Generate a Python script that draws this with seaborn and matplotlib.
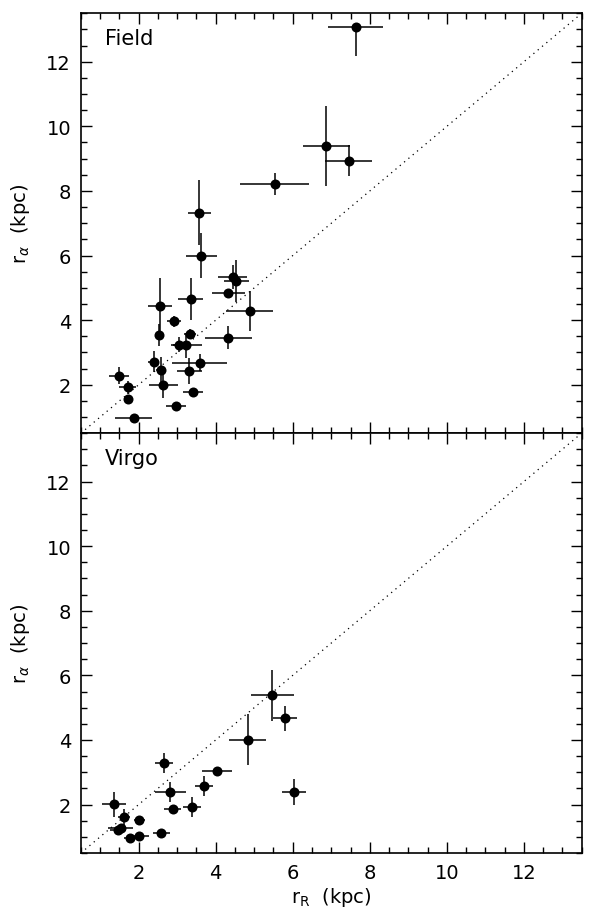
import matplotlib
matplotlib.use("Agg")
import matplotlib.pyplot as plt
from matplotlib.ticker import MultipleLocator
import numpy as np
import pandas as pd
import seaborn as sns

# Field galaxies: r_R (kpc), r_alpha (kpc) and error bars
field_x = [7.63, 6.87, 7.45, 5.53, 3.57, 3.63, 4.44, 4.54, 4.33, 4.89, 2.56, 3.35, 2.92, 2.54,
           3.34, 4.32, 3.04, 3.24, 2.39, 2.57, 3.58, 3.32, 2.64, 1.50, 1.72, 1.72, 3.41, 2.97, 1.87]
field_y = [13.08, 9.39, 8.94, 8.22, 7.33, 6.00, 5.34, 5.20, 4.85, 4.29, 4.44, 4.65, 3.96, 3.54,
           3.57, 3.46, 3.24, 3.24, 2.72, 2.47, 2.68, 2.42, 1.98, 2.28, 1.92, 1.56, 1.78, 1.33, 0.97]
field_xerr = [0.71, 0.61, 0.61, 0.89, 0.30, 0.41, 0.37, 0.32, 0.42, 0.61, 0.31, 0.33, 0.18, 0.0,
              0.15, 0.61, 0.15, 0.40, 0.15, 0.13, 0.71, 0.33, 0.38, 0.26, 0.22, 0.0, 0.26, 0.26, 0.49]
field_yerr_lo = [0.90, 1.23, 0.48, 0.35, 1.00, 0.70, 0.37, 0.65, 0.0, 0.62, 0.85, 0.65, 0.18, 0.34,
                 0.15, 0.36, 0.23, 0.40, 0.33, 0.38, 0.26, 0.41, 0.38, 0.26, 0.20, 0.15, 0.0, 0.0, 0.0]
field_yerr_hi = [0.0, 1.23, 0.48, 0.35, 1.00, 0.70, 0.37, 0.65, 0.0, 0.62, 0.85, 0.65, 0.18, 0.34,
                 0.15, 0.36, 0.23, 0.35, 0.33, 0.38, 0.26, 0.41, 0.38, 0.26, 0.20, 0.0, 0.0, 0.0, 0.0]

# Virgo galaxies
virgo_x = [5.47, 5.80, 4.83, 4.03, 2.66, 3.69, 2.82, 6.03, 3.38, 2.89, 1.37, 1.62, 2.02, 1.53,
           1.46, 1.78, 2.02, 2.59]
virgo_y = [5.38, 4.67, 4.01, 3.05, 3.29, 2.57, 2.40, 2.40, 1.92, 1.85, 2.01, 1.60, 1.53, 1.28,
           1.21, 0.96, 1.04, 1.12]
virgo_xerr = [0.56, 0.31, 0.48, 0.39, 0.24, 0.23, 0.40, 0.31, 0.24, 0.22, 0.31, 0.15, 0.15, 0.32,
              0.20, 0.15, 0.25, 0.22]
virgo_yerr = [0.80, 0.39, 0.80, 0.0, 0.31, 0.31, 0.31, 0.40, 0.31, 0.0, 0.39, 0.27, 0.0, 0.0,
              0.0, 0.0, 0.0, 0.0]

panels = ["Field", "Virgo"]

sns.set_style("ticks")
plt.rcParams['font.family'] = ['DejaVu Sans']
plt.rcParams['font.size'] = 14
for key in ["text.color", "axes.labelcolor", "xtick.color", "ytick.color", "axes.edgecolor"]:
    plt.rcParams[key] = "black"

fig = plt.figure(figsize=(5.9, 9.2), dpi=100)
ax_top = fig.add_axes([0.137, 0.528, 0.849, 0.4565])
ax_bot = fig.add_axes([0.137, 0.0717, 0.849, 0.4565], sharex=ax_top)

sets = [
    (ax_top, field_x, field_y, field_xerr, [field_yerr_lo, field_yerr_hi]),
    (ax_bot, virgo_x, virgo_y, virgo_xerr, [virgo_yerr, virgo_yerr]),
]

for (ax, x, y, xerr, yerr), name in zip(sets, panels):
    df = pd.DataFrame({"r_R": x, "r_a": y})
    ax.errorbar(x, y, xerr=xerr, yerr=yerr, fmt="none", ecolor="black",
                elinewidth=1.1, capsize=0, zorder=2)
    sns.scatterplot(data=df, x="r_R", y="r_a", ax=ax, color="black", s=52,
                    edgecolor="black", linewidth=0, zorder=3, legend=False)
    ax.plot([0.5, 13.5], [0.5, 13.5], linestyle=(0, (1, 3.5)), color="black", lw=0.9, zorder=1)
    ax.set_xlim(0.5, 13.5)
    ax.set_ylim(0.5, 13.5)
    ax.xaxis.set_major_locator(MultipleLocator(2))
    ax.xaxis.set_minor_locator(MultipleLocator(0.5))
    ax.yaxis.set_major_locator(MultipleLocator(2))
    ax.yaxis.set_minor_locator(MultipleLocator(0.5))
    ax.tick_params(which="both", direction="in", top=True, right=True, width=1, color="black")
    ax.tick_params(which="major", length=8, labelsize=14, pad=7)
    ax.tick_params(which="minor", length=4)
    for sp in ax.spines.values():
        sp.set_linewidth(1.2)
        sp.set_color("black")
    ax.set_ylabel(r"r$_\alpha$  (kpc)", fontsize=14, labelpad=10)
    ax.set_xlabel("")
    ax.text(0.048, 0.965, name, transform=ax.transAxes, ha="left", va="top", fontsize=15)

ax_top.tick_params(labelbottom=False)
ax_bot.set_xlabel(r"r$_\mathrm{R}$  (kpc)", fontsize=14, labelpad=2)

fig.savefig("out.png", dpi=100)
